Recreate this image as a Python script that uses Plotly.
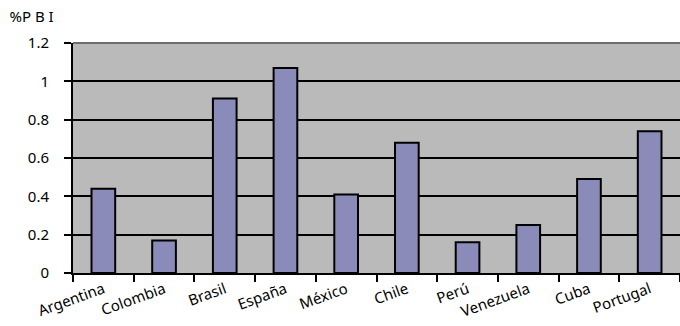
import plotly.graph_objects as go

categories = ["Argentina", "Colombia", "Brasil", "España", "México",
              "Chile", "Perú", "Venezuela", "Cuba", "Portugal"]
values = [0.44, 0.17, 0.91, 1.07, 0.41, 0.68, 0.16, 0.25, 0.49, 0.74]
y_tickvals = [0, 0.2, 0.4, 0.6, 0.8, 1.0, 1.2]
y_ticktext = ["0", "0.2", "0.4", "0.6", "0.8", "1", "1.2"]

fig = go.Figure(go.Bar(
    x=categories, y=values,
    marker=dict(color="#8b8bba", line=dict(color="black", width=2)),
    width=0.39,
))

fig.update_layout(
    width=680, height=326,
    margin=dict(l=73, r=0, t=43, b=53),
    paper_bgcolor="white",
    plot_bgcolor="#bababa",
    font=dict(family="Noto Sans, DejaVu Sans, sans-serif", color="black", size=14),
    showlegend=False,
    title=dict(text="%P B I", xref="container", yref="container",
               x=0.014, y=1 - 17 / 326, xanchor="left", yanchor="middle",
               font=dict(size=15, color="black")),
)
fig.update_xaxes(
    range=[-0.5, 9.5],
    showline=True, linecolor="black", linewidth=2,
    ticks="outside", ticklen=7, tickwidth=2, tickcolor="black",
    tickangle=-20, tickfont=dict(size=15),
    showgrid=False,
    tickson="boundaries",
)
fig.update_yaxes(
    range=[0, 1.2],
    tickvals=y_tickvals, ticktext=y_ticktext,
    showline=True, linecolor="black", linewidth=2,
    ticks="outside", ticklen=7, tickwidth=2, tickcolor="black",
    showgrid=True, gridcolor="black", gridwidth=2,
    zeroline=False, tickfont=dict(size=15),
    ticklabelstandoff=12,
)
# top border of plot area
fig.add_shape(type="line", xref="paper", yref="paper", x0=0, x1=1, y0=1, y1=1,
              line=dict(color="#6e6e6e", width=2))

fig.write_html("out.html")
